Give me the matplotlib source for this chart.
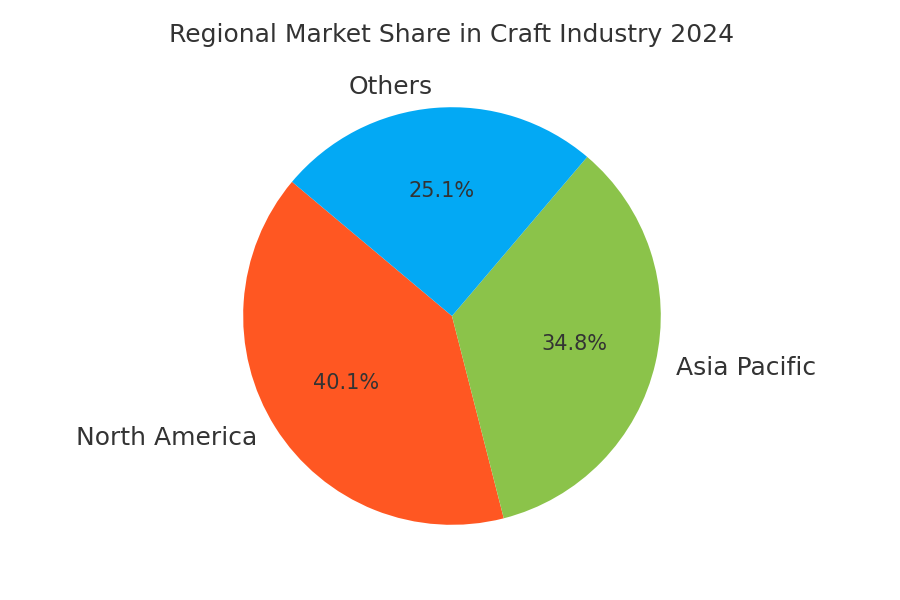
import matplotlib.pyplot as plt

# Data
regions = ["North America", "Asia Pacific", "Others"]
shares = [40.1, 34.8, 25.1]
colors = ["#FF5722", "#8BC34A", "#03A9F4"]

plt.rcParams['font.family'] = 'DejaVu Sans'
plt.rcParams['text.color'] = '#333333'

fig = plt.figure(figsize=(9, 6), dpi=100)
ax = fig.add_axes([0.1, 0.0383, 0.8044, 0.87])

wedges, texts, autotexts = ax.pie(
    shares,
    labels=regions,
    colors=colors,
    autopct='%1.1f%%',
    startangle=140,
    textprops={'color': '#333333'},
)
for t in texts:
    t.set_fontsize(18)
for t in autotexts:
    t.set_fontsize(15)
ax.set_aspect('equal')

fig.text(0.5022, 1 - 35 / 600, "Regional Market Share in Craft Industry 2024",
         ha='center', va='center', fontsize=18, color='#333333')

fig.savefig("out.png", dpi=100, facecolor='white')
